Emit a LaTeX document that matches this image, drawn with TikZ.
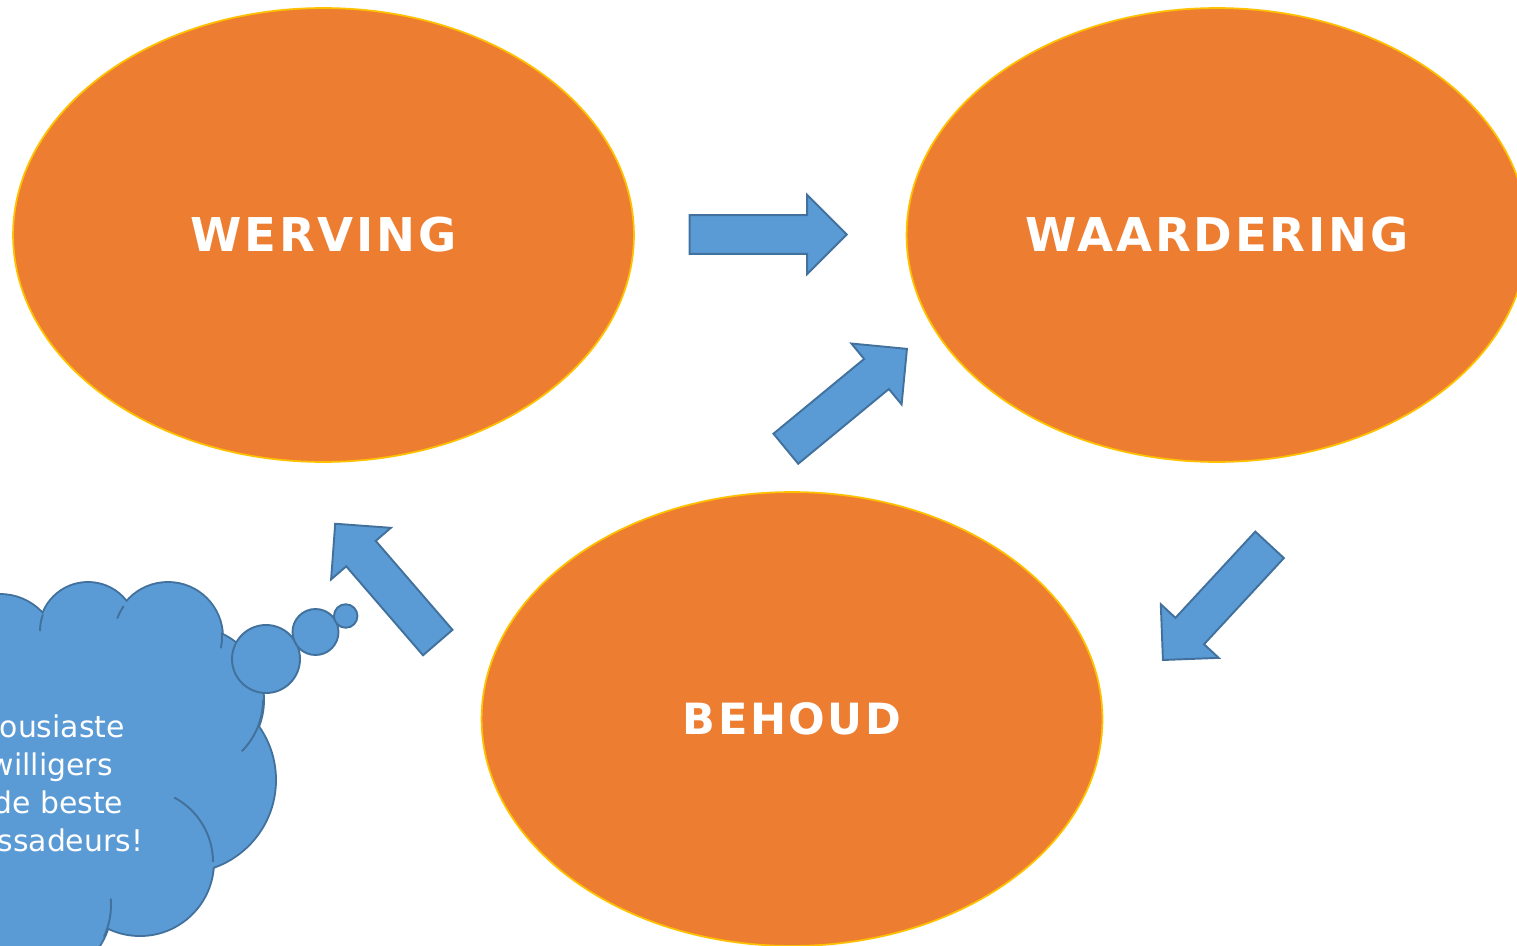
\documentclass[tikz,border=0pt]{standalone}
\usepackage{fontspec}
\setmainfont{DejaVu Sans}
\newfontfamily\stagefont[LetterSpace=6]{DejaVu Sans}
\usetikzlibrary{shapes.geometric,shapes.arrows}
\definecolor{stageorange}{HTML}{ED7D31}
\definecolor{stagerim}{HTML}{FFC000}
\definecolor{flowblue}{HTML}{5B9BD5}
\definecolor{flowedge}{HTML}{41719C}
\tikzstyle{stage} = [ellipse, draw=stagerim, line width=1pt, fill=stageorange, text=white, inner sep=0pt, minimum width=12.42cm, minimum height=9.08cm]
\tikzstyle{flow} = [single arrow, draw=flowedge, line width=1.1pt, fill=flowblue, inner xsep=0pt, inner ysep=0.37cm, minimum height=3.14cm, single arrow head extend=0.4cm, single arrow tip angle=90, anchor=tip]
\tikzstyle{puff} = [circle, draw=flowedge, line width=1.1pt, fill=flowblue, inner sep=0pt]

\begin{document}
\begin{tikzpicture}[x=0.02cm, y=0.02cm]
\useasboundingbox (0,0) rectangle (1517,-946);
\clip (0,0) rectangle (1517,-946);

\node (werving) [stage] at (323.5,-235) {\stagefont\fontsize{26.5}{30}\selectfont\bfseries WERVING};
\node (waardering) [stage] at (1217,-235) {\stagefont\fontsize{26.5}{30}\selectfont\bfseries WAARDERING};
\node (behoud) [stage] at (792,-719) {\stagefont\fontsize{24.5}{28}\selectfont\bfseries BEHOUD};

\node (toWaardering) [flow] at (848,-234.5) {};
\node (fromBehoud) [flow, rotate=39.5] at (908,-348) {};
\node (toBehoud) [flow, rotate=-132.8] at (1162,-661) {};
\node (toWerving) [flow, rotate=130.8] at (334.3,-522.7) {};

% thought cloud
\foreach \cx/\cy/\r in {0/652/57, 88/631/48, 168/637/54, 190.5/700/72.5, 183/780/92, 140/862/73, 36/905/75}
  \draw[flowedge, line width=2.2pt] (\cx,-\cy) circle[radius=\r];
\foreach \cx/\cy/\r in {0/652/57, 88/631/48, 168/637/54, 190.5/700/72.5, 183/780/92, 140/862/73, 36/905/75}
  \fill[flowblue] (\cx,-\cy) circle[radius=\r];
\fill[flowblue] (-400,-640) -- (140,-640) -- (140,-880) -- (90,-930) -- (60,-1100) -- (-400,-1100) -- cycle;
\begin{scope}[flowedge, line width=1.1pt]
\draw (88,-631) ++(160:48) arc[start angle=160, end angle=180, radius=48];
\draw (168,-637) ++(145:54) arc[start angle=145, end angle=160, radius=54];
\draw (168,-637) ++(5:54) arc[start angle=5, end angle=-12, radius=54];
\draw (190.5,-700) ++(0:72.5) arc[start angle=0, end angle=-45, radius=72.5];
\draw (140,-862) ++(62:73) arc[start angle=62, end angle=0, radius=73];
\draw (36,-905) ++(5:75) arc[start angle=5, end angle=-25, radius=75];
\end{scope}

\node (bubbleA) [puff, minimum size=1.36cm] at (266,-659) {};
\node (bubbleB) [puff, minimum size=0.92cm] at (315.5,-632) {};
\node (bubbleC) [puff, minimum size=0.47cm] at (345.7,-616) {};

\node (thought) [text=white, align=center, font=\fontsize{17}{21.6}\selectfont] at (28,-783) {Enthousiaste\\vrijwilligers\\zijn de beste\\ambassadeurs!};
\end{tikzpicture}
\end{document}
